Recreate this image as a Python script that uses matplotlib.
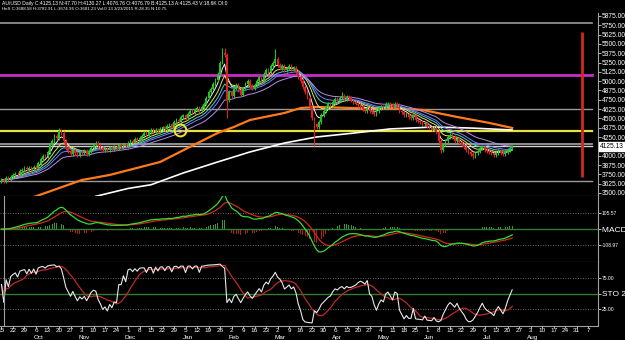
import numpy as np
import pandas as pd
import matplotlib
matplotlib.use('Agg')
import matplotlib.pyplot as plt
import matplotlib.transforms as mtransforms

plt.rcParams['font.family'] = ['Liberation Sans', 'DejaVu Sans']

# daily closes, 15 Sep 2014 .. 22 Jul 2015
closes = [3680, 3660, 3700, 3690, 3720, 3740,
          3760, 3750, 3790, 3810,
          3830, 3815, 3840, 3825, 3850, 3830,
          3900, 3960, 4000, 3990, 4050,
          4150, 4200,
          4260, 4240, 4330, 4300,
          4200, 4100, 4060, 4020, 4070,
          4040, 4010, 4050, 4030, 4060, 4020,
          4060, 4100, 4150, 4170, 4130,
          4100, 4080, 4095, 4070, 4110, 4090,
          4120, 4105, 4140, 4120, 4150, 4130,
          4170, 4200, 4190, 4220, 4210, 4240,
          4260, 4300, 4280, 4320, 4340, 4310, 4350, 4330, 4360,
          4380, 4360, 4400, 4420, 4390, 4450, 4480, 4470, 4520, 4540,
          4500, 4560, 4600, 4580, 4620, 4640, 4600, 4650, 4700,
          4780, 4850, 4900, 4960, 5020, 5100,
          5250, 5380, 5350,
          4750,
          4850, 4800, 4900, 4950, 4880, 4820, 4900, 4960, 5000, 4940, 4900, 4950, 5000,
          5050, 5000, 5100, 5150, 5120, 5200, 5240,
          5300, 5220, 5180, 5200, 5150, 5170, 5200, 5160, 5180,
          5120, 5060, 5000, 4920, 4850, 4780,
          4650, 4500, 4420, 4380,
          4450, 4550, 4600,
          4650, 4700, 4680, 4720, 4760, 4740, 4780, 4800, 4760, 4790, 4770, 4740,
          4720, 4700, 4680, 4650, 4620, 4600, 4640, 4600, 4580, 4560,
          4600, 4640, 4660, 4650, 4690, 4700, 4680, 4660, 4700, 4680,
          4600, 4580, 4550, 4560, 4520, 4500, 4540, 4480, 4460, 4450,
          4420, 4440, 4400, 4380, 4350, 4370, 4320,
          4200, 4080, 4150, 4200, 4250,
          4280, 4250, 4200, 4230, 4180, 4150, 4120,
          4080, 4050, 4020, 4000, 4030, 4060,
          4100, 4120, 4080, 4060,
          4050, 4030, 4010, 4040, 4060, 4040, 4020, 4050, 4080,
          4100, 4125.13]
spike_high = {25: 4372, 96: 5450, 97: 5440, 119: 5430, 148: 4850}
spike_low = {98: 4500, 136: 4130, 191: 4035, 205: 3960}

# slow averages (bar index, price)
orange_idx = [14, 35, 47, 69, 81, 94, 101, 108, 123, 130, 137, 152, 169, 183, 198, 212, 222]
orange_val = [3445, 3674, 3741, 3916, 4104, 4305, 4385, 4479, 4573, 4640, 4654, 4640, 4640, 4614, 4520, 4440, 4372]
white_idx = [41, 55, 65, 79, 94, 108, 123, 137, 152, 169, 188, 205, 222]
white_val = [3455, 3560, 3610, 3768, 3916, 4050, 4170, 4251, 4300, 4359, 4385, 4370, 4345]

h_lines = [(5781, '#9a9a9a', 1.2), (5083, '#c82cc8', 2.0), (4627, '#9a9a9a', 1.0),
           (4328, '#e6e040', 1.6), (4160, '#a8a8a8', 1.2), (4127, '#d0d0d0', 1.0),
           (3661, '#9a9a9a', 1.0)]

n = len(closes)
closes = np.array(closes, dtype=float)
opens = np.r_[closes[0] - 20, closes[:-1]]
highs = np.maximum(opens, closes) + 25
lows = np.minimum(opens, closes) - 25
for k, v in spike_high.items():
    highs[k] = v
for k, v in spike_low.items():
    lows[k] = v
x = np.arange(n)
cl = pd.Series(closes)

all_days = pd.bdate_range('2014-09-15', '2015-09-11')

fig = plt.figure(figsize=(6.25, 3.4), dpi=100, facecolor='black')
W, H = 625.0, 340.0
ax1 = fig.add_axes([0, 1 - 196 / H, 598 / W, 183 / H])
ax2 = fig.add_axes([0, 1 - 262 / H, 598 / W, 66 / H], sharex=ax1)
ax3 = fig.add_axes([0, 1 - 326 / H, 598 / W, 64 / H], sharex=ax1)

for ax in (ax1, ax2, ax3):
    ax.set_facecolor('black')
    for s in ('top', 'left'):
        ax.spines[s].set_visible(False)
    ax.spines['right'].set_color('#a0a0a0')
    ax.spines['bottom'].set_color('#a0a0a0')
    ax.yaxis.tick_right()
    ax.tick_params(axis='y', colors='white', labelsize=4.8, length=2, pad=0.6, width=0.5)
    ax.tick_params(axis='x', colors='white', labelsize=4.6, length=1.5, pad=0.3, width=0.5)

ax1.set_xlim(-0.65, 259.3)

# main panel
for p, c, lw in h_lines:
    ax1.axhline(p, xmin=0, xmax=592 / 598, color=c, lw=lw, zorder=1)

ax1.plot(white_idx, white_val, color='white', lw=1.2, zorder=2)
ax1.plot(orange_idx, orange_val, color='#ff7a1a', lw=1.6, zorder=2)

ema_spans = [5, 10, 15, 20, 30]
ema_cols = ['#f4f4f4', '#e6df5a', '#45cfd0', '#7b7bff', '#b68be6']
for sp, c in zip(ema_spans, ema_cols):
    ax1.plot(x, cl.ewm(span=sp, adjust=False).mean(), color=c, lw=0.7, zorder=3)

up = closes >= opens
ax1.vlines(x[up], lows[up], highs[up], color='#22c422', lw=0.8, zorder=4)
ax1.vlines(x[~up], lows[~up], highs[~up], color='#e02222', lw=0.8, zorder=4)
ax1.bar(x[up], (closes - opens)[up], bottom=opens[up], width=0.7, color='#22c422', zorder=5)
ax1.bar(x[~up], (closes - opens)[~up], bottom=opens[~up], width=0.7, color='#e02222', zorder=5)

ax1.plot([77.6], [4345], 'o', ms=8.5, mfc='none', mec='#f0e830', mew=1.4, zorder=6)
ax1.vlines(252.4, 3714, 5660, color='#d02a1a', lw=2, zorder=6)

ax1.set_ylim(3459, 5915)
yt = [v for v in np.arange(3500, 5876, 125) if v != 4125]
ax1.set_yticks(yt)
ax1.set_yticklabels(['%.2f' % v for v in yt])
ax1.text(1.003, closes[-1], '%.2f' % closes[-1], transform=ax1.get_yaxis_transform(),
         fontsize=4.8, color='black', va='center', ha='left',
         bbox=dict(boxstyle='square,pad=0.15', fc='white', ec='white'))
plt.setp(ax1.get_xticklabels(), visible=False)
ax1.tick_params(axis='x', length=0)

# MACD panel
ema_fast = cl.ewm(span=12, adjust=False).mean()
ema_slow = cl.ewm(span=26, adjust=False).mean()
macd = ema_fast - ema_slow
signal = macd.ewm(span=9, adjust=False).mean()
hist = macd - signal
ax2.axhline(0, color='#2f7d2f', lw=1.0)
for v in (105.57, -108.97):
    ax2.axhline(v, color='#8a8a8a', lw=0.6, ls=(0, (1, 2)))
ax2.bar(x, hist, width=0.35, color=np.where(hist >= 0, '#3a9a3a', '#b02020'))
ax2.plot(x, signal, color='#d02a1a', lw=0.9)
ax2.plot(x, macd, color='#33dd33', lw=0.9)
ax2.set_ylim(-220, 220)
ax2.set_yticks([105.57, 0, -108.97])
ax2.set_yticklabels(['105.57', 'MACD 6', '-108.97'])
for lab in ax2.get_yticklabels():
    lab.set_fontsize(3.6)
ax2.get_yticklabels()[1].set_fontsize(6)
ax2.axvline(1.0, color='#a0a0a0', lw=0.8)
plt.setp(ax2.get_xticklabels(), visible=False)
ax2.tick_params(axis='x', length=0)

# stochastic panel
hh = pd.Series(highs).rolling(24, min_periods=1).max()
ll = pd.Series(lows).rolling(24, min_periods=1).min()
k_line = (cl - ll) / (hh - ll) * 100
d_line = k_line.rolling(10, min_periods=1).mean()
ax3.axhline(50, color='#2f7d2f', lw=1.0)
for v in (75, 25):
    ax3.axhline(v, color='#8a8a8a', lw=0.6, ls=(0, (1, 2)))
ax3.plot(x, d_line, color='#c02828', lw=0.9)
ax3.plot(x, k_line, color='#e8e8e8', lw=0.8)
ax3.set_ylim(-2.3, 100.8)
ax3.set_yticks([75, 50, 25])
ax3.set_yticklabels(['75.00', 'STO 24', '25.00'])
for lab in ax3.get_yticklabels():
    lab.set_fontsize(3.6)
ax3.get_yticklabels()[1].set_fontsize(6)
ax3.axvline(1.0, color='#a0a0a0', lw=0.8)

mondays = [i for i, d in enumerate(all_days) if d.weekday() == 0]
ax3.set_xticks(mondays)
ax3.set_xticklabels([str(all_days[i].day) for i in mondays])
seen = {all_days[0].month}
trans = mtransforms.blended_transform_factory(ax3.transData, fig.transFigure)
for i in mondays:
    d = all_days[i]
    if d.month not in seen:
        seen.add(d.month)
        ax3.text(i + 1, 1 - 337.5 / H, d.strftime('%b'), transform=trans,
                 color='white', fontsize=4.6, ha='center', va='center')

fig.text(2 / W, 1 - 3 / H,
         'AU/USD Daily C:4125.13 N:47.70 H:4130.27 L:4076.76 O:4076.79 B:4125.13 A:4125.43 V:18.6K OI:0',
         color='white', fontsize=3.6, va='center')
fig.text(2 / W, 1 - 9 / H,
         'HeS C:3688.58 H:3782.91 L:3674.96 O:3681.23 Vol:0 13 3/23/2015 R:28.35 N:10.75',
         color='white', fontsize=3.2, va='center')

fig.savefig('out.png', dpi=100, facecolor='black')
